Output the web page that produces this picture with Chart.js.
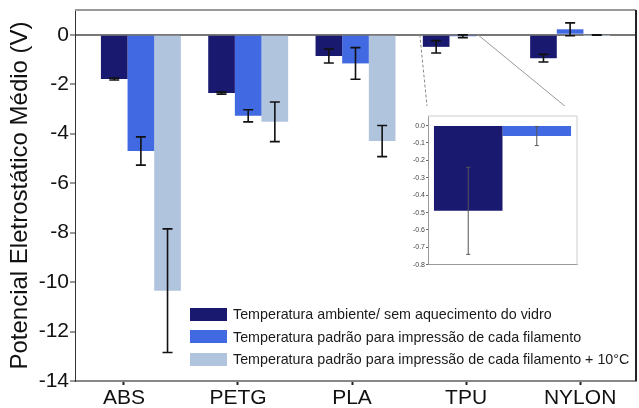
<!DOCTYPE html>
<html>
<head>
<meta charset="utf-8">
<script src="https://cdn.jsdelivr.net/npm/chart.js@4"></script>
<style>
  body { margin: 0; background: #fff; }
  #wrap { position: relative; width: 639px; height: 408px; font-family: "Liberation Sans", Arial, sans-serif; }
  #main { position: absolute; left: 0; top: 0; }
  #inset { position: absolute; left: 398px; top: 106px; background: #fff; }
  #legend { position: absolute; left: 190px; top: 303px; font-size: 14.3px; color: #1a1a1a; white-space: nowrap; }
  .row { display: flex; align-items: center; height: 22.5px; }
  .sw { width: 37px; height: 13px; margin-right: 6px; }
</style>
</head>
<body>
<div id="wrap">
  <canvas id="main" width="639" height="408"></canvas>
  <canvas id="inset" width="182" height="164"></canvas>
  <div id="legend"></div>
</div>
<script>
const materials = ['ABS', 'PETG', 'PLA', 'TPU', 'NYLON'];
const seriesNames = [
  'Temperatura ambiente/ sem aquecimento do vidro',
  'Temperatura padrão para impressão de cada filamento',
  'Temperatura padrão para impressão de cada filamento + 10°C'
];
const seriesColors = ['#191970', '#4169E1', '#B0C4DE'];

const ambient = [-1.79, -2.36, -0.86, -0.49, -0.95];
const ambientErr = [0.04, 0.04, 0.28, 0.25, 0.155];
const standard = [-4.70, -3.28, -1.16, -0.06, 0.22];
const standardErr = [0.57, 0.245, 0.64, 0.055, 0.26];
const plus10 = [-10.35, -3.52, -4.30, 0, -0.01];
const plus10Err = [2.5, 0.8, 0.63, 0, 0.01];

const yTicks = [-14, -12, -10, -8, -6, -4, -2, 0];

// inset: zoom on TPU
const insetLabel = ['TPU'];
const insetAmbient = [-0.49];
const insetAmbientErr = [0.25];
const insetStandard = [-0.06];
const insetStandardErr = [0.055];
const insetTicks = [-0.8, -0.7, -0.6, -0.5, -0.4, -0.3, -0.2, -0.1, 0];

const FONT = '"Liberation Sans", Arial, sans-serif';

// legend (html, real text)
const legendEl = document.getElementById('legend');
seriesNames.forEach((n, i) => {
  const r = document.createElement('div');
  r.className = 'row';
  r.innerHTML = '<div class="sw" style="background:' + seriesColors[i] + '"></div><span>' + n + '</span>';
  legendEl.appendChild(r);
});

const errorBars = {
  id: 'errorBars',
  afterDatasetsDraw(chart, args, opts) {
    const c = chart.ctx;
    const ys = chart.scales.y;
    c.save();
    c.strokeStyle = opts.color;
    c.lineWidth = opts.width;
    chart.data.datasets.forEach((ds, di) => {
      const meta = chart.getDatasetMeta(di);
      meta.data.forEach((bar, i) => {
        const e = ds.err[i];
        if (!e) return;
        const raw = ds.data[i];
        const v = typeof raw === 'object' ? raw.y : raw;
        const y1 = ys.getPixelForValue(v + e);
        const y2 = ys.getPixelForValue(v - e);
        c.beginPath();
        c.moveTo(bar.x, y1); c.lineTo(bar.x, y2);
        c.moveTo(bar.x - opts.cap, y1); c.lineTo(bar.x + opts.cap, y1);
        c.moveTo(bar.x - opts.cap, y2); c.lineTo(bar.x + opts.cap, y2);
        c.stroke();
      });
    });
    c.restore();
  }
};

const insetBox = { left: 428, top: 116, right: 577 };

const frame = {
  id: 'frame',
  afterDraw(chart, args, opts) {
    const c = chart.ctx;
    const a = chart.chartArea;
    c.save();
    c.lineWidth = opts.width;
    c.strokeStyle = opts.topColor;
    c.beginPath();
    c.moveTo(a.left, a.top); c.lineTo(a.right, a.top);
    c.stroke();
    c.strokeStyle = opts.rightColor;
    c.beginPath();
    c.moveTo(a.right, a.top); c.lineTo(a.right, a.bottom);
    c.stroke();
    if (opts.zoom) {
      const xs = chart.scales.x;
      const y0 = chart.scales.y.getPixelForValue(0);
      c.lineWidth = 1;
      c.strokeStyle = '#888';
      c.setLineDash([3, 2]);
      c.beginPath();
      c.moveTo(xs.getPixelForValue(3) - 43, y0); c.lineTo(insetBox.left, insetBox.top);
      c.stroke();
      c.setLineDash([]);
      c.strokeStyle = '#999';
      c.beginPath();
      c.moveTo(xs.getPixelForValue(3) + 15, y0); c.lineTo(insetBox.right, insetBox.top);
      c.stroke();
    }
    c.restore();
  }
};

function pts(arr) { return arr.map((v, i) => ({ x: i, y: v })); }

new Chart(document.getElementById('main'), {
  type: 'bar',
  data: {
    datasets: [
      { label: seriesNames[0], data: pts(ambient), err: ambientErr, backgroundColor: seriesColors[0] },
      { label: seriesNames[1], data: pts(standard), err: standardErr, backgroundColor: seriesColors[1] },
      { label: seriesNames[2], data: pts(plus10), err: plus10Err, backgroundColor: seriesColors[2] }
    ]
  },
  options: {
    responsive: false,
    animation: false,
    layout: { padding: { top: 10, right: 3, left: 0, bottom: 0 } },
    datasets: { bar: { categoryPercentage: 0.745, barPercentage: 1.0 } },
    plugins: {
      legend: { display: false },
      tooltip: { enabled: false },
      errorBars: { color: '#111', width: 1.6, cap: 5 },
      frame: { width: 2, topColor: '#999', rightColor: '#222', zoom: true }
    },
    scales: {
      x: {
        type: 'linear', display: false, offset: false, min: -0.614, max: 4.614,
        afterBuildTicks(s) { s.ticks = materials.map((m, i) => ({ value: i })); },
        grid: { offset: false }
      },
      xl: {
        type: 'linear', position: 'bottom', offset: false, min: -0.429, max: 4.49,
        afterBuildTicks(s) { s.ticks = materials.map((m, i) => ({ value: i })); },
        afterFit(s) { s.height = 27; },
        ticks: {
          callback: (v) => materials[v],
          color: '#111', font: { family: FONT, size: 21 }, padding: 1, maxRotation: 0
        },
        grid: { offset: false, drawOnChartArea: false, tickLength: 4, tickColor: '#222', tickWidth: 2 },
        border: { color: '#888', width: 2 }
      },
      y: {
        min: -14, max: 1,
        afterBuildTicks(s) { s.ticks = yTicks.map(v => ({ value: v })); },
        afterFit(s) { s.width = 75; s.paddingTop = 0; },
        ticks: { color: '#111', font: { family: FONT, size: 21 }, padding: 1 },
        grid: {
          color: (ctx) => ctx.tick && ctx.tick.value === 0 ? '#777' : 'rgba(0,0,0,0)',
          lineWidth: 2,
          tickColor: '#333', tickWidth: 1, tickLength: 5
        },
        border: { color: '#333', width: 1 },
        title: {
          display: true, text: 'Potencial Eletrostático Médio (V)',
          color: '#111', font: { family: FONT, size: 24 }, padding: { top: 6, bottom: 0 }
        }
      }
    }
  },
  plugins: [errorBars, frame]
});

new Chart(document.getElementById('inset'), {
  type: 'bar',
  data: {
    labels: insetLabel,
    datasets: [
      { data: insetAmbient, err: insetAmbientErr, backgroundColor: seriesColors[0] },
      { data: insetStandard, err: insetStandardErr, backgroundColor: seriesColors[1] }
    ]
  },
  options: {
    responsive: false,
    animation: false,
    layout: { padding: { top: 10, right: 3, left: 0, bottom: 0 } },
    datasets: { bar: { categoryPercentage: 0.92, barPercentage: 1.0 } },
    plugins: {
      legend: { display: false },
      tooltip: { enabled: false },
      errorBars: { color: '#555', width: 1, cap: 2 },
      frame: { width: 1, topColor: '#ccc', rightColor: '#ccc', zoom: false }
    },
    scales: {
      x: {
        ticks: { display: false },
        afterFit(s) { s.height = 5; },
        grid: { display: false },
        border: { color: '#999', width: 1 }
      },
      y: {
        min: -0.8, max: 0.055,
        afterBuildTicks(s) { s.ticks = insetTicks.map(v => ({ value: v })); },
        afterFit(s) { s.width = 30; s.paddingTop = 0; },
        ticks: {
          color: '#444', font: { family: FONT, size: 7 }, padding: 1,
          callback: (v) => v.toFixed(1)
        },
        grid: { drawOnChartArea: false, tickLength: 2, tickColor: '#666' },
        border: { color: '#999', width: 1 }
      }
    }
  },
  plugins: [errorBars, frame]
});
</script>
</body>
</html>
